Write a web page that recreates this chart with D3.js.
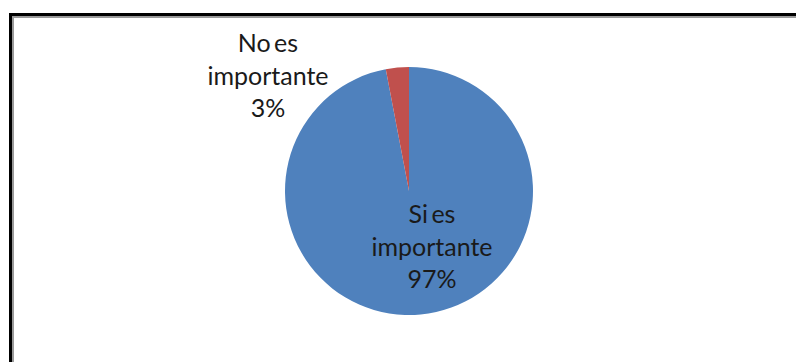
<!DOCTYPE html>
<html>
<head>
<meta charset="utf-8">
<script src="https://cdn.jsdelivr.net/npm/d3@7"></script>
<style>
  html, body { margin: 0; padding: 0; background: #fff; }
  svg { display: block; }
</style>
</head>
<body>
<svg id="chart" width="796" height="362"></svg>
<script>
// Survey answers and their shares (percent)
const categories = ["Si es importante", "No es importante"];
const values = [97, 3];
const colors = ["#4F81BD", "#C0504D"];

const W = 796, H = 362;
const svg = d3.select("#chart");

// Outer frame: heavy black edge with a thin grey inner line
svg.append("rect").attr("x", 0).attr("y", 0).attr("width", W).attr("height", H).attr("fill", "#fff");
svg.append("rect").attr("x", 10.5).attr("y", 14.5).attr("width", W + 20).attr("height", H + 20)
  .attr("fill", "none").attr("stroke", "#000").attr("stroke-width", 3);
svg.append("rect").attr("x", 13).attr("y", 17).attr("width", W + 20).attr("height", H + 20)
  .attr("fill", "none").attr("stroke", "#9a9a9a").attr("stroke-width", 2);

// Pie
const cx = 409, cy = 191, R = 124;
const data = categories.map((c, i) => ({ name: c, value: values[i], color: colors[i] }));
const pie = d3.pie().value(d => d.value).sort(null);
const arc = d3.arc().innerRadius(0).outerRadius(R);

const g = svg.append("g").attr("transform", `translate(${cx},${cy})`);
g.selectAll("path").data(pie(data)).join("path")
  .attr("d", arc)
  .attr("fill", d => d.data.color);

// Data labels: category split over two lines, then the percentage
const labelOffsets = [{ dx: 23, dy: 32 }, { dx: -141, dy: -139 }];
const lineH = 32.5;

data.forEach((d, i) => {
  const words = d.name.split(" ");
  const lines = [words.slice(0, 2).join(" "), words.slice(2).join(" "), d.value + "%"];
  const t = svg.append("text")
    .attr("x", cx + labelOffsets[i].dx)
    .attr("y", cy + labelOffsets[i].dy)
    .attr("text-anchor", "middle")
    .attr("font-family", "Lato, 'Open Sans', sans-serif")
    .attr("font-size", 25)
    .attr("fill", "#1a1a1a")
    .attr("word-spacing", -3);
  lines.forEach((ln, k) => {
    t.append("tspan").attr("x", cx + labelOffsets[i].dx).attr("dy", k === 0 ? 0 : lineH).text(ln);
  });
});
</script>
</body>
</html>
